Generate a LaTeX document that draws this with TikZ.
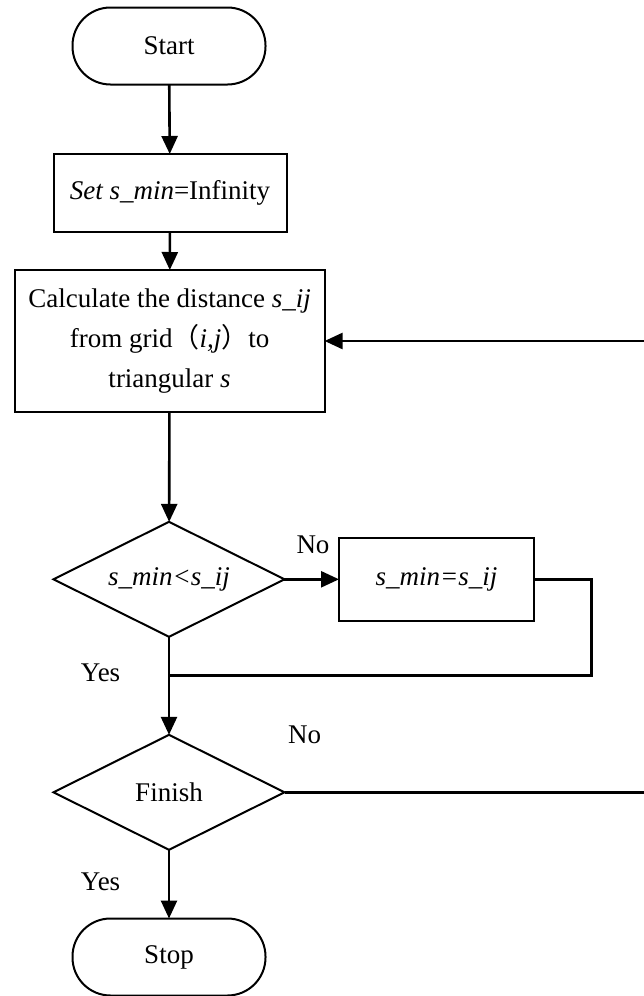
\documentclass[tikz,border=0pt]{standalone}
\usepackage{fontspec}
\setmainfont{Liberation Serif}
\newfontfamily\cjk{Noto Sans CJK SC}
\usetikzlibrary{shapes.geometric,arrows.meta}
\begin{document}
\begin{tikzpicture}[x=1pt,y=-1pt,
  box/.style={draw,line width=2pt,rectangle,inner sep=0pt,outer sep=0pt,align=center,font=\fontsize{27}{32}\selectfont},
  term/.style={box,rounded corners=38pt,minimum width=193pt,minimum height=77pt},
  dec/.style={box,diamond,shape aspect=2,minimum width=231pt,minimum height=115pt},
  conn/.style={line width=2.6pt,-{Triangle[length=18pt,width=16pt]}},
  plainline/.style={line width=2.6pt},
  lbl/.style={font=\fontsize{27}{32}\selectfont,inner sep=0pt}]
\clip (0,0) rectangle (644,996);
\node[term] (start) at (169,46) {Start};
\node[box,minimum width=233pt,minimum height=78pt] (set) at (170,193) {\textit{Set s\_min}=Infinity};
\node[box,minimum width=310pt,minimum height=142pt,font=\fontsize{27}{40}\selectfont] (calc) at (169.6,341)
  {Calculate the distance \textit{s\_ij}\\ from grid{\cjk （}\textit{i,j}{\cjk ）}to\\ triangular \textit{s}};
\node[dec] (d1) at (169,579.3) {\textit{s\_min<s\_ij}};
\node[box,minimum width=195pt,minimum height=83pt] (upd) at (436.5,579.3) {\textit{s\_min=s\_ij}};
\node[dec] (d2) at (169,792.3) {Finish};
\node[term] (stop) at (169,957) {Stop};
\coordinate (j1) at (591.4,675.7);
\coordinate (m1) at (169,675.7);
\coordinate (r1) at (660,792.3);
\coordinate (r2) at (660,341);
\draw[conn] (start) -- (set);
\draw[conn] (set) -- (calc);
\draw[conn] (calc) -- (d1);
\draw[conn] (d1) -- (upd);
\draw[plainline] (upd.east) -| (j1) -- (m1);
\draw[conn] (d1) -- (d2);
\draw[conn] (d2) -- (stop);
\draw[conn] (d2.east) -- (r1) -- (r2) -- (calc.east);
\node[lbl] (no1) at (313,545) {No};
\node[lbl] (yes1) at (100.6,672.3) {Yes};
\node[lbl] (no2) at (304.7,734.3) {No};
\node[lbl] (yes2) at (100.6,881.7) {Yes};
\end{tikzpicture}
\end{document}
